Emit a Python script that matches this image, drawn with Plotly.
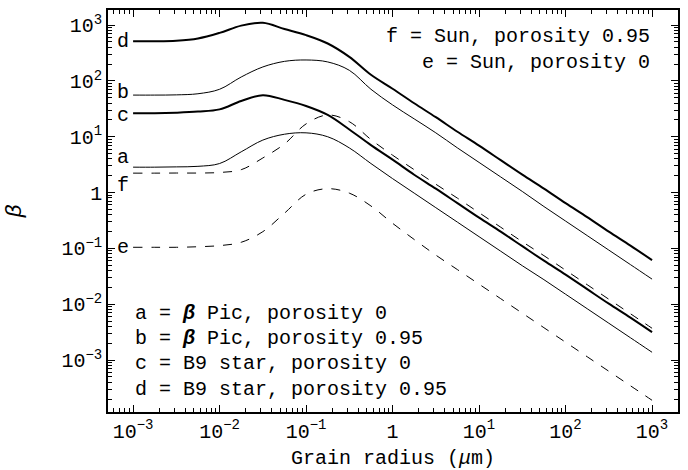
import numpy as np
import plotly.graph_objects as go

# log10 of grain radius (micron)
log_radius = [-3.0, -2.75, -2.5, -2.25, -2.0, -1.75, -1.5, -1.25, -1.0, -0.75, -0.5, -0.25,
              0.0, 0.25, 0.5, 0.75, 1.0, 1.25, 1.5, 1.75, 2.0, 2.25, 2.5, 2.75, 3.0]

# log10(beta) for each curve
log_beta_a = [0.455, 0.455, 0.46, 0.47, 0.52, 0.73, 0.94, 1.045, 1.07, 1.00, 0.80, 0.52,
              0.25, -0.01, -0.27, -0.53, -0.79, -1.05, -1.31, -1.56, -1.82, -2.08, -2.34, -2.60, -2.86]
log_beta_b = [1.746, 1.746, 1.75, 1.77, 1.85, 2.07, 2.25, 2.35, 2.375, 2.34, 2.19, 1.85,
              1.57, 1.32, 1.07, 0.80, 0.54, 0.28, 0.02, -0.25, -0.51, -0.77, -1.03, -1.29, -1.55]
log_beta_c = [1.42, 1.42, 1.43, 1.45, 1.49, 1.64, 1.745, 1.66, 1.55, 1.39, 1.13, 0.85,
              0.59, 0.32, 0.07, -0.19, -0.45, -0.70, -0.96, -1.22, -1.47, -1.73, -1.99, -2.24, -2.50]
log_beta_d = [2.71, 2.71, 2.72, 2.76, 2.86, 2.99, 3.04, 2.93, 2.82, 2.67, 2.43, 2.11,
              1.86, 1.60, 1.35, 1.09, 0.84, 0.58, 0.32, 0.07, -0.19, -0.44, -0.70, -0.95, -1.21]
log_beta_e = [-0.98, -0.98, -0.98, -0.97, -0.95, -0.89, -0.70, -0.37, -0.03, 0.07, -0.01, -0.24,
              -0.55, -0.84, -1.12, -1.38, -1.64, -1.90, -2.16, -2.42, -2.68, -2.94, -3.20, -3.46, -3.72]
log_beta_f = [0.348, 0.348, 0.35, 0.35, 0.36, 0.41, 0.62, 0.87, 1.23, 1.39, 1.27, 0.95,
              0.67, 0.41, 0.15, -0.10, -0.36, -0.62, -0.88, -1.13, -1.39, -1.65, -1.91, -2.17, -2.43]

curve_labels = ["a", "b", "c", "d", "e", "f"]
label_shift = [10, 3, -2, 0, 0, -12]

legend_left = ["a = <b><i>β</i></b> Pic, porosity 0",
               "b = <b><i>β</i></b> Pic, porosity 0.95",
               "c = B9 star, porosity 0",
               "d = B9 star, porosity 0.95"]
legend_right = ["f = Sun, porosity 0.95",
                "e = Sun, porosity 0"]

tickvals = [1e-3, 1e-2, 1e-1, 1, 10, 100, 1000]
ticktext = ["10<sup>−3</sup>", "10<sup>−2</sup>", "10<sup>−1</sup>", "1",
            "10<sup>1</sup>", "10<sup>2</sup>", "10<sup>3</sup>"]

FONT = "Liberation Mono"
FS = 20

series = [log_beta_a, log_beta_b, log_beta_c, log_beta_d, log_beta_e, log_beta_f]
widths = [1, 1, 2, 2, 1, 1]
dashes = ["solid", "solid", "solid", "solid", "dash", "dash"]

radius = 10.0 ** np.array(log_radius)

fig = go.Figure()
for ly, w, d in zip(series, widths, dashes):
    fig.add_trace(go.Scatter(x=radius, y=10.0 ** np.array(ly), mode="lines",
                             line=dict(color="black", width=w, dash=d, shape="spline", smoothing=1.0),
                             showlegend=False))

minor_vals = [m * 10.0 ** k for k in range(-4, 4) for m in range(2, 10)]

annotations = []
for lab, ly, sh in zip(curve_labels, series, label_shift):
    annotations.append(dict(x=log_radius[0], y=ly[0], xref="x", yref="y",
                            text=lab, showarrow=False, xanchor="right", yanchor="middle",
                            xshift=-2, yshift=sh, font=dict(family=FONT, size=FS, color="black")))
for i, t in enumerate(legend_left):
    annotations.append(dict(x=0.044, y=0.246 - i * 0.0632, xref="paper", yref="paper",
                            text=t, showarrow=False, xanchor="left", yanchor="middle",
                            font=dict(family=FONT, size=FS, color="black")))
for i, t in enumerate(legend_right):
    annotations.append(dict(x=0.954, y=0.935 - i * 0.0647, xref="paper", yref="paper",
                            text=t, showarrow=False, xanchor="right", yanchor="middle",
                            font=dict(family=FONT, size=FS, color="black")))

axis_common = dict(showline=True, linecolor="black", linewidth=1.5, mirror="allticks",
                   ticks="inside", ticklen=7, tickwidth=1, tickcolor="black",
                   showgrid=False, zeroline=False, automargin=False,
                   tickfont=dict(family=FONT, size=FS, color="black"),
                   minor=dict(tickmode="array", tickvals=minor_vals, ticks="inside",
                              ticklen=4, tickwidth=1, tickcolor="black", showgrid=False))

fig.update_xaxes(type="log", range=[-3.29, 3.30], tickmode="array",
                 tickvals=tickvals, ticktext=ticktext,
                 title=dict(text="Grain radius (<i>μ</i>m)", font=dict(family=FONT, size=FS, color="black"),
                            standoff=12),
                 **axis_common)
fig.update_yaxes(type="log", range=[-3.93, 3.27], tickmode="array",
                 tickvals=tickvals, ticktext=ticktext,
                 title=dict(text="<i>β</i>", font=dict(family=FONT, size=22, color="black"),
                            standoff=34),
                 **axis_common)

fig.update_layout(width=688, height=470, margin=dict(l=108, r=10, t=10, b=58),
                  paper_bgcolor="white", plot_bgcolor="white",
                  font=dict(family=FONT, color="black"),
                  annotations=annotations)

fig.write_html("out.html")
